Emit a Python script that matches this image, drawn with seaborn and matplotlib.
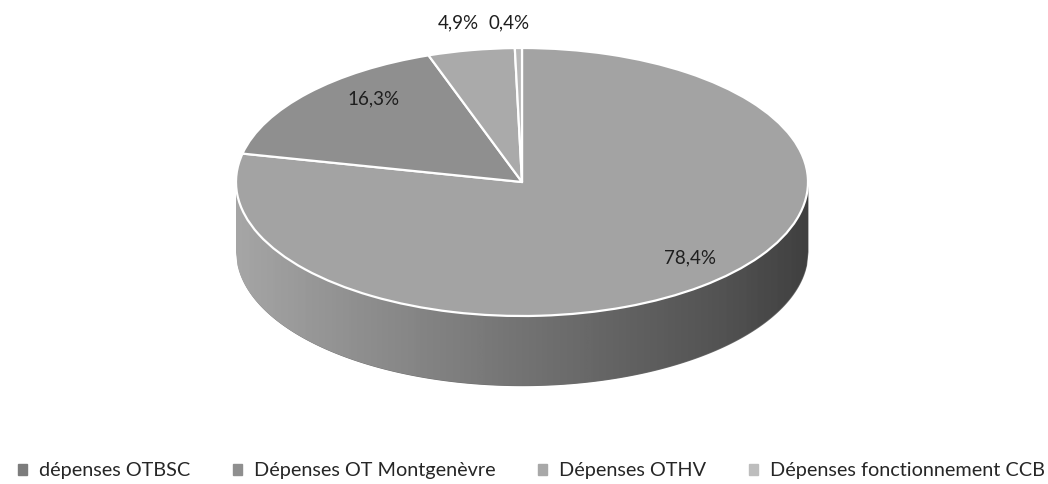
import numpy as np
import matplotlib
matplotlib.use("Agg")
import matplotlib.pyplot as plt
from matplotlib.patches import PathPatch
import seaborn as sns

categories = ["dépenses OTBSC", "Dépenses OT Montgenèvre", "Dépenses OTHV",
              "Dépenses fonctionnement CCB"]
shares = [78.4, 16.3, 4.9, 0.4]

sns.set_theme(style="white")
plt.rcParams["font.family"] = ["Lato", "DejaVu Sans"]

top_colors = ["#a3a3a3", "#8f8f8f", "#aaaaaa", "#b8b8b8"]
legend_colors = ["#7c7c7c", "#8f8f8f", "#a8a8a8", "#bdbdbd"]

W, H = 1048, 484
fig = plt.figure(figsize=(W / 100, H / 100), dpi=100)
ax = fig.add_axes([0, 0, 1, 1])

# side band of the 3d disc, shaded left->right
depth = 0.52
xs = np.linspace(-1, 1, 400)
lower = -np.sqrt(1 - xs ** 2)
side = ax.fill_between(xs, lower - depth, lower, color="#6e6e6e", lw=0)
clip = PathPatch(side.get_paths()[0], transform=ax.transData, fc="none", ec="none")
ax.add_patch(clip)
grad = np.linspace(0.45, 0.8, 256).reshape(1, -1)
im = ax.imshow(grad, extent=[-1, 1, -1 - depth, 0], cmap="Greys", vmin=0, vmax=1,
               aspect="auto", zorder=1)
im.set_clip_path(clip)

wedges, texts, autotexts = ax.pie(
    shares, colors=top_colors, startangle=90, counterclock=False,
    autopct=lambda p: f"{p:.1f}%".replace(".", ","), pctdistance=0.78,
    wedgeprops=dict(edgecolor="white", linewidth=1.6),
    textprops=dict(fontsize=13.5, color="#1e1e1e"))
for w in wedges:
    w.set_zorder(2)
for t in autotexts:
    t.set_zorder(3)

# label placement (the two small slices sit above the disc)
autotexts[0].set_position((0.587, -0.567))
autotexts[1].set_position((-0.52, 0.62))
autotexts[2].set_position((-0.224, 1.19))
autotexts[3].set_position((-0.045, 1.19))

# squash the circle into the flat top ellipse (pixel geometry)
cx, cy, rx, ry = 522, 182, 286, 134
ax.set_aspect("auto")
ax.set_xlim(-cx / rx, (W - cx) / rx)
ax.set_ylim(-(H - cy) / ry, cy / ry)
ax.axis("off")

handles = [plt.Rectangle((0, 0), 1, 1, color=c) for c in legend_colors]
ax.legend(handles, categories, loc="center", bbox_to_anchor=(0.507, 0.027),
          ncol=4, frameon=False, fontsize=14.3, handlelength=0.45,
          handleheight=0.45, handletextpad=0.6, columnspacing=2.15,
          borderaxespad=0, borderpad=0)

fig.savefig("out.png", dpi=100, facecolor="white")
